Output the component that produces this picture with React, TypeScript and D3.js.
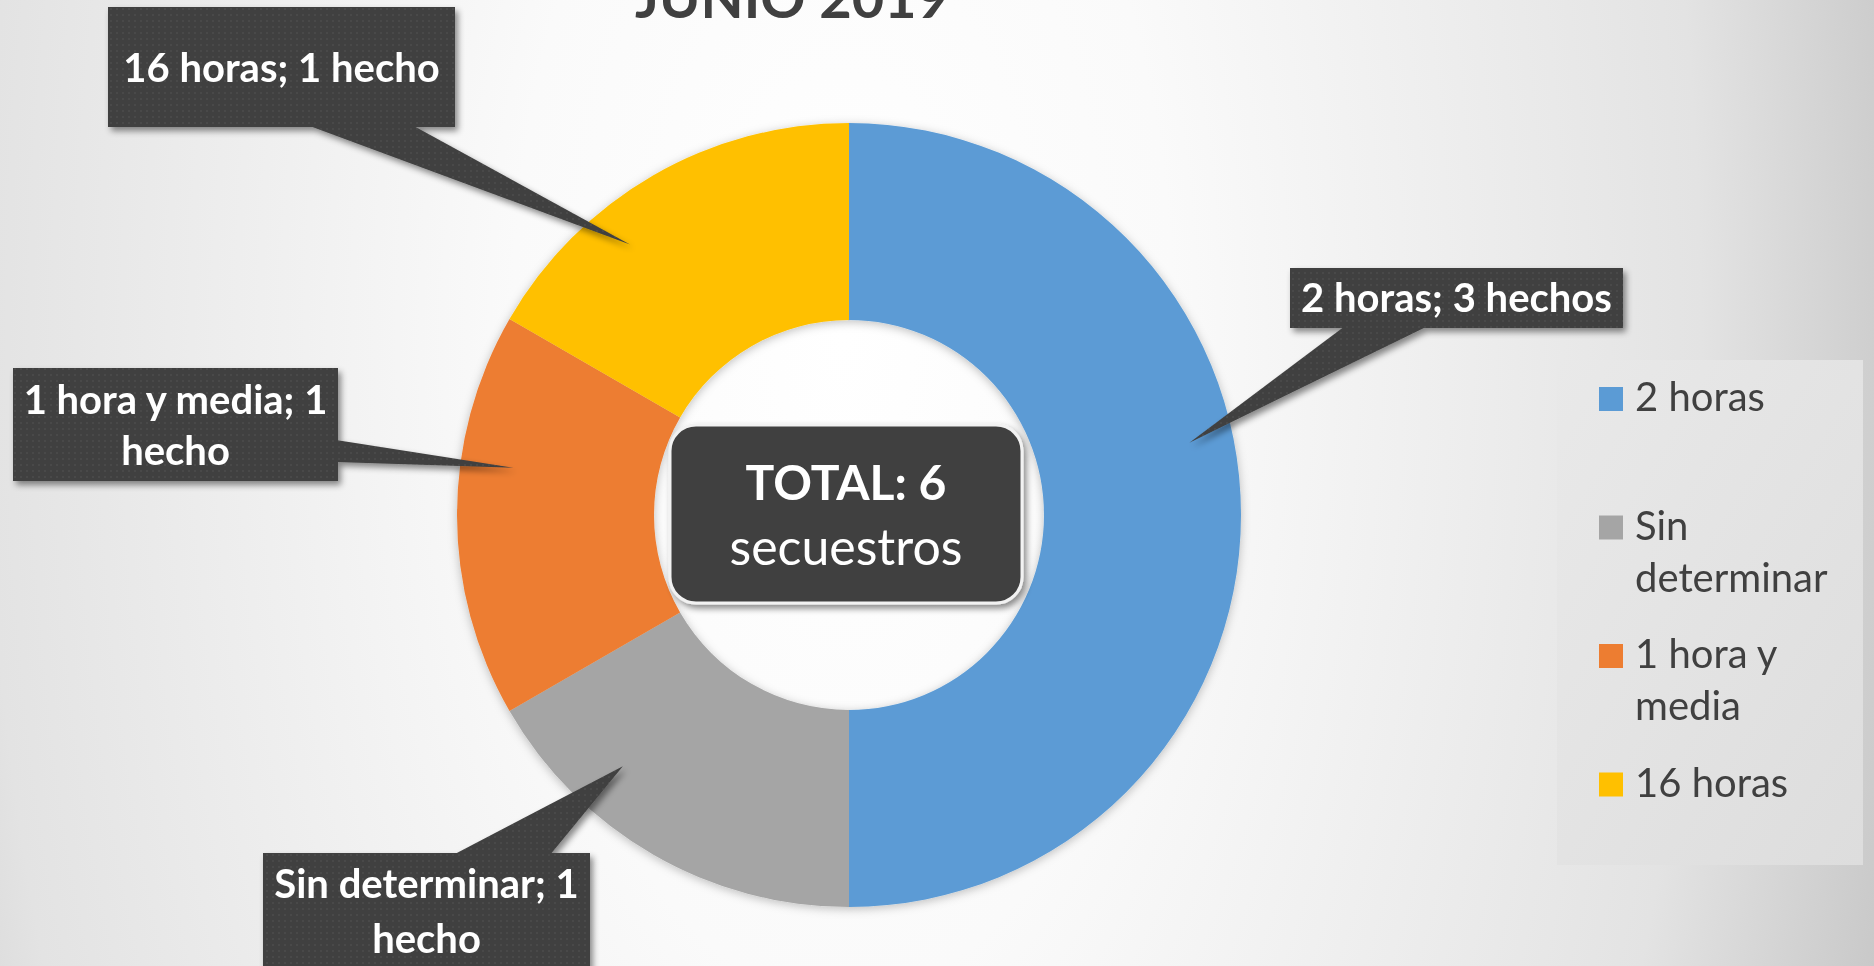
import { useMemo } from "react";
import * as d3 from "d3";

// datos del gráfico
const categories = ["2 horas", "Sin determinar", "1 hora y media", "16 horas"];
const values = [3, 1, 1, 1];
const colors = ["#5B9BD5", "#A5A5A5", "#ED7D31", "#FFC000"];
const legendLines = [["2 horas"], ["Sin", "determinar"], ["1 hora y", "media"], ["16 horas"]];
const title = "JUNIO 2019";
const totalLabel = "secuestros";

// cajas de las etiquetas (layout)
const callouts = [
  { x: 1290, y: 268, w: 333, h: 60, base: [1345, 1428], side: "bottom", baselines: [312], tipAngle: -12, tipR: 348 },
  { x: 263, y: 853, w: 327, h: 130, base: [453, 550], side: "top", baselines: [898, 953], tipAngle: 12, tipR: 338 },
  { x: 13, y: 368, w: 325, h: 113, base: [440, 462], side: "right", baselines: [414, 465], tipAngle: 8, tipR: 339 },
  { x: 108, y: 7, w: 347, h: 120, base: [307, 412], side: "bottom", baselines: [82], tipAngle: -9, tipR: 348 },
];

const W = 1874;
const H = 966;
const cx = 849;
const cy = 515;
const outerR = 392;
const innerR = 195;
const font = "Lato, 'Open Sans', sans-serif";

const labelText = (i: number) => {
  const v = values[i];
  return `${categories[i]}; ${v} ${v === 1 ? "hecho" : "hechos"}`;
};

export default function App() {
  const arcs = useMemo(
    () => d3.pie<number>().sort(null).value((d) => d)(values),
    []
  );
  const arcGen = d3.arc<d3.PieArcDatum<number>>().innerRadius(innerR).outerRadius(outerR);
  const total = d3.sum(values);

  return (
    <div style={{ position: "fixed", left: 0, top: 0 }}>
      <svg width={W} height={H} style={{ display: "block" }} fontFamily={font}>
        <defs>
          <radialGradient
            id="bg"
            gradientUnits="userSpaceOnUse"
            cx={843}
            cy={338}
            r={1100}
            gradientTransform="translate(843,338) scale(1,2) translate(-843,-338)"
          >
            <stop offset="0" stopColor="#ffffff" />
            <stop offset="0.3" stopColor="#fafafa" />
            <stop offset="0.78" stopColor="#e3e3e3" />
            <stop offset="0.98" stopColor="#c9c9c9" />
          </radialGradient>
          <linearGradient id="legbg" x1="0" x2="1" y1="0" y2="1">
            <stop offset="0" stopColor="#e9e9e9" />
            <stop offset="1" stopColor="#dddddd" />
          </linearGradient>
          <pattern id="dots" width="6" height="6" patternUnits="userSpaceOnUse">
            <rect width="6" height="6" fill="#404040" />
            <circle cx="3" cy="3" r="0.9" fill="#4d4d4d" />
          </pattern>
          <filter id="shadow" x="-20%" y="-20%" width="140%" height="140%">
            <feDropShadow dx="3" dy="4" stdDeviation="3" floodColor="#000" floodOpacity="0.45" />
          </filter>
          <filter id="softshadow" x="-10%" y="-10%" width="120%" height="120%">
            <feDropShadow dx="0" dy="2" stdDeviation="5" floodColor="#000" floodOpacity="0.25" />
          </filter>
        </defs>

        <rect width={W} height={H} fill="url(#bg)" />

        <text x={792} y={18} textAnchor="middle" fontSize={56} fontWeight="bold" fill="#404040">
          {title}
        </text>

        <g transform={`translate(${cx},${cy})`} filter="url(#softshadow)">
          {arcs.map((a, i) => (
            <path key={i} d={arcGen(a) || ""} fill={colors[i]} />
          ))}
        </g>

        {arcs.map((a, i) => {
          const c = callouts[i];
          const mid = (a.startAngle + a.endAngle) / 2 + (c.tipAngle * Math.PI) / 180;
          const tx = cx + c.tipR * Math.sin(mid);
          const ty = cy - c.tipR * Math.cos(mid);
          let pts: [number, number][];
          if (c.side === "bottom") {
            pts = [[c.base[0], c.y + c.h - 2], [c.base[1], c.y + c.h - 2], [tx, ty]];
          } else if (c.side === "top") {
            pts = [[c.base[0], c.y + 2], [c.base[1], c.y + 2], [tx, ty]];
          } else {
            pts = [[c.x + c.w - 2, c.base[0]], [c.x + c.w - 2, c.base[1]], [tx, ty]];
          }
          const txt = labelText(i);
          const lines =
            c.baselines.length > 1
              ? [txt.slice(0, txt.lastIndexOf(" ")), txt.slice(txt.lastIndexOf(" ") + 1)]
              : [txt];
          return (
            <g key={"c" + i}>
              <g filter="url(#shadow)">
                <rect x={c.x} y={c.y} width={c.w} height={c.h} fill="url(#dots)" />
                <polygon points={pts.map((p) => p.join(",")).join(" ")} fill="url(#dots)" />
              </g>
              {lines.map((l, j) => (
                <text
                  key={j}
                  x={c.x + c.w / 2}
                  y={c.baselines[j]}
                  textAnchor="middle"
                  fontSize={40}
                  fontWeight="bold"
                  fill="#ffffff"
                >
                  {l}
                </text>
              ))}
            </g>
          );
        })}

        <g filter="url(#shadow)">
          <rect x={670} y={425} width={352} height={178} rx={26} fill="#404040" stroke="#f2f2f2" strokeWidth={3} />
        </g>
        <text x={846} y={500} textAnchor="middle" fontSize={48} fontWeight="bold" fill="#ffffff">
          {`TOTAL: ${total}`}
        </text>
        <text x={846} y={565} textAnchor="middle" fontSize={50} fill="#ffffff">
          {totalLabel}
        </text>

        <rect x={1557} y={360} width={306} height={505} fill="url(#legbg)" />
        {categories.map((cat, i) => {
          const base = 411 + i * 128.5;
          return (
            <g key={cat}>
              <rect x={1599} y={base - 24} width={24} height={24} fill={colors[i]} />
              {legendLines[i].map((l, j) => (
                <text key={j} x={1635} y={base + j * 52} fontSize={40} fill="#404040">
                  {l}
                </text>
              ))}
            </g>
          );
        })}
      </svg>
    </div>
  );
}
